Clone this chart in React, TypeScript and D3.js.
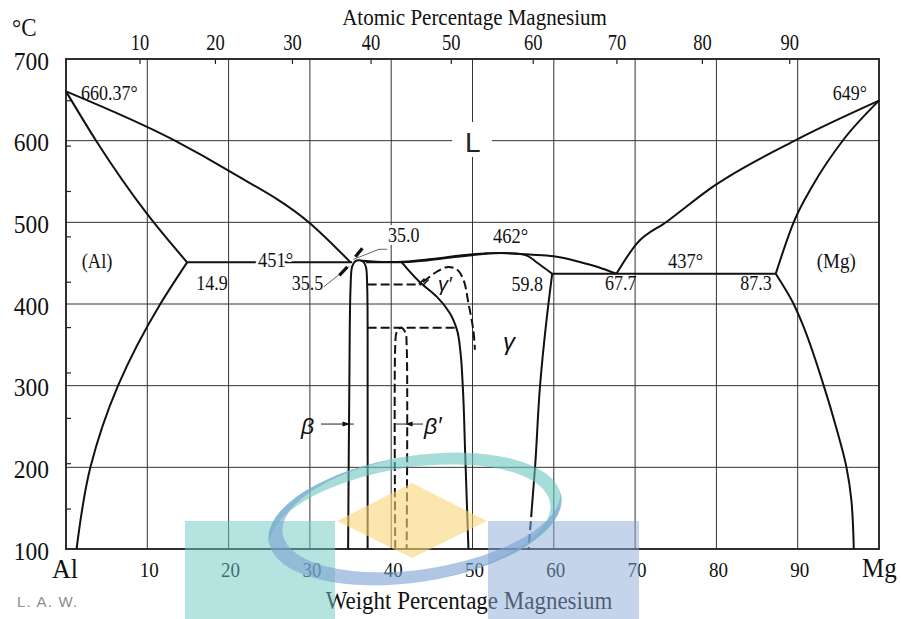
import React from "react";
import * as d3 from "d3";

type Pt = [number, number];

// ---- axes ----
const weightTicks = [10, 20, 30, 40, 50, 60, 70, 80, 90];
const atomicTicks = [10, 20, 30, 40, 50, 60, 70, 80, 90];
const tempTicks = [100, 200, 300, 400, 500, 600, 700];
const fahrenheitTicks = [300, 400, 500, 600, 700, 800, 900, 1000, 1100, 1200];

// ---- phase boundaries: [wt.% Mg, °C] ----
const alLiquidus: Pt[] = [[0, 660.37], [13.4, 600], [20.2, 562], [30, 499], [35, 451]];
const alSolidus: Pt[] = [[0, 660.37], [3.7, 600], [10, 510], [14.9, 451]];
const alSolvus: Pt[] = [[14.9, 451], [11.6, 400], [6.4, 300], [3.0, 200], [1.3, 100]];
const alEutectic: Pt[] = [[14.9, 451], [35.2, 451]];
const betaField: Pt[] = [[34.7, 100], [34.85, 300], [35.0, 420], [35.2, 446], [35.6, 452.5], [36.1, 453.5], [36.6, 451.5], [36.9, 445], [37.05, 420], [37.1, 300], [37.1, 100]];
const betaGammaEutectic: Pt[] = [[36.9, 451], [41.3, 451]];
const gammaLiquidus: Pt[] = [[36.3, 453], [39.5, 451.3], [42, 452], [45, 455], [50, 461], [53.5, 462.5], [57, 460.5], [60, 458.5], [63.2, 451.5], [65.5, 445], [67.7, 437]];
const gammaSolidus: Pt[] = [[41.3, 451], [44, 453], [47, 456.5], [50, 459.8], [53.5, 462.3], [55.5, 461.5], [56.6, 459.5], [58.3, 448], [59.8, 437]];
const gammaLeft: Pt[] = [[41.3, 451], [43.5, 427], [45.6, 409], [47.2, 389], [48.1, 368], [48.5, 343], [48.8, 300], [49.1, 217], [49.5, 100]];
const gammaRight: Pt[] = [[59.8, 437], [59.1, 380], [58.3, 299], [57.7, 201], [57.3, 150]];
const gammaRightLow: Pt[] = [[57.3, 150], [56.9, 100]];
const gammaPrimeDome: Pt[] = [[43.9, 427], [45.6, 439.5], [46.8, 445], [48.06, 442.5], [48.9, 429.4], [49.5, 401], [50.1, 368], [50.3, 344]];
const betaPrimeField: Pt[] = [[40.5, 100], [40.5, 350], [40.65, 365], [41.2, 371], [41.75, 365], [41.9, 350], [41.9, 100]];
const orderingUpper: Pt[] = [[37.1, 424], [43.7, 424]];
const orderingLower: Pt[] = [[37.1, 371], [47.8, 371]];
const mgEutectic: Pt[] = [[59.8, 437], [87.3, 437]];
const mgLiquidus: Pt[] = [[67.7, 437], [70.2, 474], [73.9, 500.8], [79.8, 545.2], [90, 601.9], [100, 649]];
const mgSolidus: Pt[] = [[87.3, 437], [89.5, 500], [91.9, 546], [95.6, 600.8], [100, 649]];
const mgSolvus: Pt[] = [[87.3, 437], [89.5, 400], [90.4, 380], [93.2, 300], [94.7, 250], [96, 200], [96.6, 160], [96.9, 100]];

const W = 901;
const H = 619;
const SERIF = "'Liberation Serif', 'Times New Roman', serif";
const SANS = "'Liberation Sans', Arial, sans-serif";

const wt = d3.scaleLinear().domain([0, 100]).range([66, 879]);
const temp = d3.scaleLinear().domain([100, 700]).range([549, 59]);

// atomic % Mg -> weight % Mg (Al 26.98, Mg 24.305)
const atToWt = (a: number) => (100 * a * 24.305) / (a * 24.305 + (100 - a) * 26.98);
const fToC = (f: number) => ((f - 32) * 5) / 9;

type CurveKind = "x" | "y" | "cr" | "lin";
const curves: Record<CurveKind, d3.CurveFactory> = {
  x: d3.curveMonotoneX,
  y: d3.curveMonotoneY,
  cr: d3.curveCatmullRom.alpha(0.5),
  lin: d3.curveLinear,
};
const pathFor = (pts: Pt[], kind: CurveKind) =>
  d3
    .line<Pt>()
    .x((d) => wt(d[0]))
    .y((d) => temp(d[1]))
    .curve(curves[kind])(pts) || "";

const boundaries: { pts: Pt[]; kind: CurveKind; dashed?: boolean }[] = [
  { pts: alLiquidus, kind: "x" },
  { pts: alSolidus, kind: "x" },
  { pts: alSolvus, kind: "y" },
  { pts: alEutectic, kind: "lin" },
  { pts: betaField, kind: "cr" },
  { pts: betaGammaEutectic, kind: "lin" },
  { pts: gammaLiquidus, kind: "x" },
  { pts: gammaSolidus, kind: "x" },
  { pts: gammaLeft, kind: "y" },
  { pts: gammaRight, kind: "y" },
  { pts: gammaRightLow, kind: "lin", dashed: true },
  { pts: gammaPrimeDome, kind: "cr", dashed: true },
  { pts: betaPrimeField, kind: "cr", dashed: true },
  { pts: orderingUpper, kind: "lin", dashed: true },
  { pts: orderingLower, kind: "lin", dashed: true },
  { pts: mgEutectic, kind: "lin" },
  { pts: mgLiquidus, kind: "x" },
  { pts: mgSolidus, kind: "x" },
  { pts: mgSolvus, kind: "y" },
];

type TxtProps = {
  x: number;
  y: number;
  size: number;
  children: React.ReactNode;
  anchor?: "start" | "middle" | "end";
  sy?: number;
  family?: string;
  fill?: string;
  italic?: boolean;
  halo?: boolean;
  spacing?: number;
};

function Txt({ x, y, size, children, anchor = "start", sy = 1.12, family = SERIF, fill = "#111", italic = false, halo = false, spacing }: TxtProps) {
  return (
    <text
      transform={`translate(${x},${y}) scale(1,${sy})`}
      fontSize={size}
      fontFamily={family}
      textAnchor={anchor}
      fill={fill}
      fontStyle={italic ? "italic" : "normal"}
      stroke={halo ? "#fff" : undefined}
      strokeWidth={halo ? 5 : undefined}
      paintOrder="stroke"
      letterSpacing={spacing}
    >
      {children}
    </text>
  );
}

export default function App() {
  const x0 = wt(0);
  const x1 = wt(100);
  const yTop = temp(700);
  const yBot = temp(100);
  const yArrow = temp(253);
  const eut = { x: wt(35.1), y: temp(451) };

  return (
    <svg width={W} height={H} style={{ position: "absolute", left: 0, top: 0, background: "#fff" }}>
      <defs>
        <mask id="tealCut" maskUnits="userSpaceOnUse" x={-300} y={-200} width={600} height={400}>
          <rect x={-300} y={-200} width={600} height={400} fill="#fff" />
          <ellipse cx={-6} cy={5.5} rx={142} ry={57.5} fill="#000" />
        </mask>
        <mask id="blueCut" maskUnits="userSpaceOnUse" x={-300} y={-200} width={600} height={400}>
          <rect x={-300} y={-200} width={600} height={400} fill="#fff" />
          <ellipse cx={7.5} cy={-6} rx={140.5} ry={57} fill="#000" />
        </mask>
      </defs>
      <rect width={W} height={H} fill="#fff" />

      {/* grid */}
      <g stroke="#333" strokeWidth={1}>
        {weightTicks.map((v) => (
          <line key={"gx" + v} x1={wt(v)} x2={wt(v)} y1={yTop} y2={yBot} />
        ))}
        {tempTicks.slice(1, -1).map((v) => (
          <line key={"gy" + v} x1={x0} x2={x1} y1={temp(v)} y2={temp(v)} />
        ))}
      </g>

      {/* white patch behind the liquid label */}
      <rect x={452} y={122} width={40} height={35} fill="#fff" />
      <Txt x={465} y={151.5} size={28} family={SANS} sy={1.0} fill="#222">
        L
      </Txt>

      {/* frame */}
      <rect x={x0} y={yTop} width={x1 - x0} height={yBot - yTop} fill="none" stroke="#1a1a1a" strokeWidth={1.8} />

      {/* atomic-percent ticks along the top, °F ticks on the left */}
      <g stroke="#222" strokeWidth={1.2}>
        {atomicTicks.map((a) => (
          <line key={"ta" + a} x1={wt(atToWt(a))} x2={wt(atToWt(a))} y1={yTop} y2={yTop + 5} />
        ))}
        {fahrenheitTicks.map((f) => (
          <line key={"tf" + f} x1={x0} x2={x0 + 5} y1={temp(fToC(f))} y2={temp(fToC(f))} />
        ))}
      </g>

      {/* phase boundaries */}
      <g fill="none" stroke="#111" strokeWidth={2} strokeLinejoin="round">
        {boundaries.map((b, i) => (
          <path key={"b" + i} d={pathFor(b.pts, b.kind)} strokeDasharray={b.dashed ? "9,4" : undefined} />
        ))}
      </g>

      {/* small strokes at the start of the gamma-prime dome */}
      <g stroke="#111" strokeWidth={1.6}>
        <line x1={wt(43.4)} y1={temp(424)} x2={wt(44.1)} y2={temp(431)} />
        <line x1={wt(43.9)} y1={temp(423)} x2={wt(44.6)} y2={temp(430)} />
      </g>

      {/* leaders to the eutectic */}
      <g stroke="#666" strokeWidth={1} fill="none">
        <polyline points={`${wt(39.5)},${temp(467)} ${wt(38.5)},${temp(467)} ${eut.x + 2},${eut.y - 3}`} />
        <polyline points={`${wt(31.7)},${temp(421)} ${eut.x - 2},${eut.y + 4}`} />
      </g>
      <g stroke="#111" strokeWidth={3.2} strokeLinecap="butt">
        <line x1={eut.x + 11} y1={eut.y - 14} x2={eut.x + 4} y2={eut.y - 5.5} />
        <line x1={eut.x - 12} y1={eut.y + 13} x2={eut.x - 4} y2={eut.y + 4.5} />
      </g>

      {/* beta / beta-prime pointers */}
      <g stroke="#222" strokeWidth={1}>
        <line x1={321} x2={wt(35.4)} y1={yArrow} y2={yArrow} />
        <line x1={423} x2={wt(40.3)} y1={yArrow} y2={yArrow} />
      </g>
      <polygon points={`${wt(34.75) + 2},${yArrow} ${wt(34.75) - 6},${yArrow - 2.5} ${wt(34.75) - 6},${yArrow + 2.5}`} fill="#111" />
      <polygon points={`${wt(41.9) - 1.5},${yArrow} ${wt(41.9) + 6},${yArrow - 2.5} ${wt(41.9) + 6},${yArrow + 2.5}`} fill="#111" />

      {/* field and point labels */}
      <Txt x={wt(0) + 15} y={99.5} size={18}>660.37°</Txt>
      <Txt x={867} y={99.5} size={18} anchor="end">649°</Txt>
      <Txt x={81.7} y={268} size={18.5}>(Al)</Txt>
      <Txt x={816.7} y={268} size={19}>(Mg)</Txt>
      <Txt x={258} y={267} size={18.5} halo>451°</Txt>
      <Txt x={wt(14.9) + 9} y={290} size={18}>14.9</Txt>
      <Txt x={323.3} y={290} size={18} anchor="end">35.5</Txt>
      <Txt x={388} y={241.5} size={18} halo>35.0</Txt>
      <Txt x={493} y={243} size={18.5}>462°</Txt>
      <Txt x={543} y={291} size={18} anchor="end">59.8</Txt>
      <Txt x={605} y={290} size={18}>67.7</Txt>
      <Txt x={771.7} y={290} size={18} anchor="end">87.3</Txt>
      <Txt x={668} y={268} size={18.5}>437°</Txt>

      <Txt x={301} y={434} size={23} family={SANS} italic sy={1}>β</Txt>
      <Txt x={424} y={434} size={23} family={SANS} italic sy={1}>β′</Txt>
      <Txt x={503} y={350} size={24} family={SANS} italic sy={1}>γ</Txt>
      <Txt x={438} y={290.5} size={20} family={SANS} italic sy={1}>γ′</Txt>

      {/* axis labels */}
      <Txt x={12} y={36} size={23} sy={1.08}>°C</Txt>
      <Txt x={474.5} y={25} size={21} anchor="middle" sy={1.08}>Atomic Percentage Magnesium</Txt>
      {atomicTicks.map((a) => (
        <Txt key={"la" + a} x={wt(atToWt(a))} y={50} size={18.5} anchor="middle" sy={1.2}>
          {a}
        </Txt>
      ))}
      {tempTicks.map((v) => (
        <Txt key={"lt" + v} x={49} y={temp(v) + 10.5} size={23.5} anchor="end" sy={1.08}>
          {v}
        </Txt>
      ))}
      {weightTicks.map((v) => (
        <Txt key={"lw" + v} x={wt(v) + 2} y={577} size={19} anchor="middle" sy={1.15}>
          {v}
        </Txt>
      ))}
      <Txt x={52} y={578} size={26} sy={1.05}>Al</Txt>
      <Txt x={862} y={577} size={25} sy={1.05}>Mg</Txt>
      <Txt x={17} y={607} size={15} family={SANS} fill="#8c8c8c" sy={1} spacing={1.2}>L. A. W.</Txt>
      <Txt x={469} y={609} size={23} anchor="middle" sy={1.08}>Weight Percentage Magnesium</Txt>

      {/* watermark */}
      <g>
        <rect x={185} y={521} width={150} height={98} fill="rgb(107,199,191)" fillOpacity={0.5} />
        <rect x={488} y={521} width={151} height={98} fill="rgb(137,169,213)" fillOpacity={0.5} />
        <polygon points="337,521 412,483 487,521 412,558" fill="rgb(249,215,118)" fillOpacity={0.6} />
        <g transform="translate(415,519) rotate(-9)">
          <ellipse cx={0} cy={0} rx={148} ry={63} fill="rgb(107,198,190)" fillOpacity={0.6} mask="url(#tealCut)" />
          <ellipse cx={0} cy={0} rx={148} ry={63} fill="rgb(122,160,210)" fillOpacity={0.6} mask="url(#blueCut)" />
        </g>
      </g>
    </svg>
  );
}
